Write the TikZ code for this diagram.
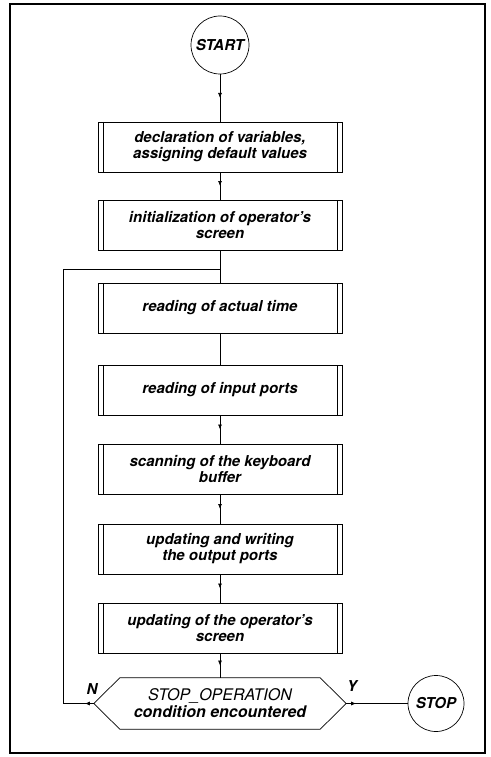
\documentclass[tikz,border=0pt]{standalone}
\usepackage{fontspec}
\setmainfont{TeX Gyre Heros}
\usetikzlibrary{calc,decorations.markings,arrows.meta}

\begin{document}
\begin{tikzpicture}[x=1pt,y=-1pt,
  every node/.style={font=\bfseries\itshape\fontsize{15}{16}\selectfont},
  line/.style={line width=0.7pt},
  procbox/.style={draw, line width=0.7pt, minimum width=244pt, minimum height=50pt,
    inner sep=0pt, align=center,
    path picture={
      \draw[line width=0.6pt] ([xshift=5pt]path picture bounding box.north west) -- ([xshift=5pt]path picture bounding box.south west);
      \draw[line width=0.6pt] ([xshift=-5pt]path picture bounding box.north east) -- ([xshift=-5pt]path picture bounding box.south east);}},
  term/.style={draw, circle, line width=0.7pt, minimum size=58pt, inner sep=0pt},
  hexbox/.style={minimum width=200pt, minimum height=51pt, inner sep=0pt, align=center,
    font=\bfseries\itshape\fontsize{16}{17}\selectfont},
  flowmark/.style={decoration={markings, mark=at position #1 with {\arrow{Latex[length=5pt,width=4pt]}}},
    postaction={decorate}},
  flowmark/.default=0.5]
\useasboundingbox (0,0) rectangle (490,757);
\draw [line width=1.5pt] (10,4) rectangle (485,753);

% terminals and process boxes
\node[term] (start) at (220,45) {START};
\node[procbox] (b1) at (220,147) {declaration of variables,\\ assigning default values};
\node[procbox] (b2) at (220,225) {initialization of operator's\\ screen};
\node[procbox] (b3) at (220,308) {reading of actual time};
\node[procbox] (b4) at (220,390) {reading of input ports};
\node[procbox] (b5) at (220,469) {scanning of the keyboard\\ buffer};
\node[procbox] (b6) at (220,549) {updating and writing\\ the output ports};
\node[procbox] (b7) at (220,628) {updating of the operator's\\ screen};

% decision
\node[hexbox] (dec) at (220,703.5) {{\mdseries STOP\_OPERATION}\\ condition encountered};
\coordinate (decN) at ($(dec.west)+(-26,0)$);
\coordinate (decY) at ($(dec.east)+(26,0)$);
\draw [line] (dec.north west) -- (dec.north east) -- (decY) -- (dec.south east)
  -- (dec.south west) -- (decN) -- cycle;
\node (lblN) at (92,689) {N};
\node (lblY) at (352,686) {Y};
\node[term, minimum size=56pt] (stop) at (436,703.5) {STOP};

% flow
\draw [line,flowmark] (start) -- (b1);
\draw [line,flowmark] (b1) -- (b2);
\draw [line] (b2) -- (b3);
\draw [line] (b3) -- (b4);
\draw [line,flowmark] (b4) -- (b5);
\draw [line,flowmark] (b5) -- (b6);
\draw [line,flowmark] (b6) -- (b7);
\draw [line,flowmark] (b7) -- (dec);
\draw [line,flowmark=10pt] (decY) -- (stop);

% loop back
\coordinate (loopL) at (63,703.5);
\coordinate (loopJ) at (220,269);
\draw [line,flowmark=9pt] (decN) -- (loopL) |- (loopJ);
\end{tikzpicture}
\end{document}
